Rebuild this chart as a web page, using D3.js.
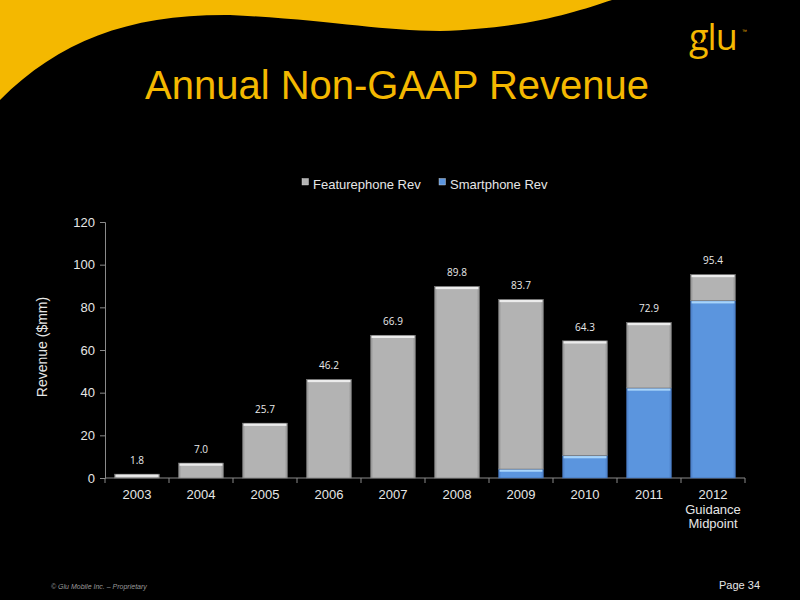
<!DOCTYPE html>
<html>
<head>
<meta charset="utf-8">
<script src="https://cdn.jsdelivr.net/npm/d3@7"></script>
<style>
html,body{margin:0;padding:0;background:#000;}
svg{display:block;}
</style>
</head>
<body>
<svg id="chart" width="800" height="600"></svg>
<script>
const categories = ["2003","2004","2005","2006","2007","2008","2009","2010","2011","2012\nGuidance\nMidpoint"];
const totals = [1.8, 7.0, 25.7, 46.2, 66.9, 89.8, 83.7, 64.3, 72.9, 95.4];
const smartphone = [0, 0, 0, 0, 0, 0, 4.2, 10.5, 42.2, 83.1];
const featurephone = totals.map((t,i) => +(t - smartphone[i]).toFixed(1));
const yTicks = [0, 20, 40, 60, 80, 100, 120];
const seriesNames = ["Featurephone Rev", "Smartphone Rev"];

(function(){
const svg = d3.select("#chart");
const W = 800, H = 600;
const yellow = "#f4b800";

svg.append("rect").attr("width", W).attr("height", H).attr("fill", "#000");
// yellow swoosh
svg.append("path")
  .attr("d", "M0,0 L612,0 C575,12 530,28 440,31 C380,31 330,20 230,15 C130,14 60,40 0,100 Z")
  .attr("fill", yellow);

// logo
const logo = svg.append("g");
logo.append("text").attr("x", 689).attr("y", 50).text("glu")
  .attr("font-family", "Open Sans, sans-serif").attr("font-size", 36).attr("font-weight", 500)
  .attr("fill", yellow).attr("letter-spacing", -1);
logo.append("circle").attr("cx", 699).attr("cy", 41).attr("r", 2).attr("fill", "#000");
logo.append("circle").attr("cx", 706).attr("cy", 41).attr("r", 2).attr("fill", "#000");
logo.append("text").attr("x", 742).attr("y", 33).text("™")
  .attr("font-family", "Liberation Sans, sans-serif").attr("font-size", 5).attr("fill", yellow);

// title
svg.append("text").attr("x", 397).attr("y", 99).attr("text-anchor", "middle")
  .attr("font-family", "Liberation Sans, Arial, sans-serif").attr("font-size", 40)
  .attr("fill", yellow).text("Annual Non-GAAP Revenue");

const defs = svg.append("defs");
function grad(id, edge, mid){
  const g = defs.append("linearGradient").attr("id", id).attr("x1","0").attr("x2","1").attr("y1","0").attr("y2","0");
  g.append("stop").attr("offset","0").attr("stop-color", edge);
  g.append("stop").attr("offset","0.06").attr("stop-color", mid);
  g.append("stop").attr("offset","0.94").attr("stop-color", mid);
  g.append("stop").attr("offset","1").attr("stop-color", edge);
}
grad("gGray", "#8e8e8e", "#b3b3b3");
grad("gBlue", "#4a7cc4", "#5b95de");

const pLeft = 105, pRight = 745, pTop = 222, pBottom = 478;
const x = d3.scaleBand().domain(categories).range([pLeft, pRight]).paddingInner(0.3).paddingOuter(0.15);
const y = d3.scaleLinear().domain([0, 120]).range([pBottom, pTop]);

// y axis
const yAxis = d3.axisLeft(y).tickValues(yTicks).tickSize(5).tickPadding(5);
const gy = svg.append("g").attr("transform", `translate(${pLeft},0)`).call(yAxis);
gy.select(".domain").attr("stroke", "#8a8a8a");
gy.selectAll(".tick line").attr("stroke", "#8a8a8a");
gy.selectAll(".tick text").attr("fill", "#e6e6e6").attr("font-size", 13)
  .attr("font-family", "Liberation Sans, Arial, sans-serif");

// x axis
const xAxis = d3.axisBottom(x).tickSize(0).tickFormat("");
const gx = svg.append("g").attr("transform", `translate(0,${pBottom})`).call(xAxis);
gx.select(".domain").attr("stroke", "#8a8a8a").attr("d", `M${pLeft},0H${pRight}`);
gx.selectAll(".tick").remove();
const bounds = categories.map((c) => x(c) - x.step()*x.paddingInner()/2).concat([pRight]);
gx.selectAll(".sep").data(bounds).join("line")
  .attr("x1", d => d).attr("x2", d => d).attr("y1", 0).attr("y2", 5).attr("stroke", "#8a8a8a");
const lbl = svg.append("g").attr("font-family", "Liberation Sans, Arial, sans-serif")
  .attr("font-size", 13).attr("fill", "#e6e6e6").attr("text-anchor", "middle");
categories.forEach(c => {
  const t = lbl.append("text").attr("x", x(c) + x.bandwidth()/2).attr("y", 499);
  c.split("\n").forEach((line, i) => {
    t.append("tspan").attr("x", x(c) + x.bandwidth()/2).attr("dy", i === 0 ? 0 : 14.5).text(line);
  });
});

// y label
svg.append("text").attr("transform", "translate(47,347) rotate(-90)").attr("text-anchor", "middle")
  .attr("font-family", "Liberation Sans, Arial, sans-serif").attr("font-size", 14)
  .attr("fill", "#e6e6e6").text("Revenue ($mm)");

// bars
const bars = svg.append("g");
categories.forEach((c, i) => {
  const bx = x(c), bw = x.bandwidth();
  if (smartphone[i] > 0) {
    bars.append("rect").attr("x", bx).attr("width", bw)
      .attr("y", y(smartphone[i])).attr("height", y(0) - y(smartphone[i]))
      .attr("fill", "url(#gBlue)").attr("stroke", "#3f6aa8").attr("stroke-width", 0.6);
    bars.append("rect").attr("x", bx + 1).attr("width", bw - 2)
      .attr("y", y(smartphone[i]) + 0.5).attr("height", 2.2).attr("fill", "#a8d4fa");
  }
  const y0 = y(smartphone[i]), y1 = y(smartphone[i] + featurephone[i]);
  bars.append("rect").attr("x", bx).attr("width", bw)
    .attr("y", y1).attr("height", y0 - y1)
    .attr("fill", "url(#gGray)").attr("stroke", "#7a7a7a").attr("stroke-width", 0.6);
  bars.append("rect").attr("x", bx + 1).attr("width", bw - 2)
    .attr("y", y1 + 0.5).attr("height", 2.2).attr("fill", "#ececec");
  svg.append("text").attr("x", bx + bw/2).attr("y", y(totals[i]) - 10)
    .attr("text-anchor", "middle").attr("font-family", "Open Sans, DejaVu Sans, sans-serif")
    .attr("font-size", 10).attr("fill", "#eaeaea").text(totals[i].toFixed(1));
});

// legend
const legend = svg.append("g").attr("font-family", "Liberation Sans, Arial, sans-serif")
  .attr("font-size", 13).attr("fill", "#e6e6e6");
const legendItems = [
  {name: seriesNames[0], color: "#b3b3b3", sx: 302, tx: 313},
  {name: seriesNames[1], color: "#5b95de", sx: 439, tx: 450}
];
legendItems.forEach(d => {
  legend.append("rect").attr("x", d.sx).attr("y", 178.5).attr("width", 6.5).attr("height", 6.5)
    .attr("fill", d.color).attr("stroke", "#ddd").attr("stroke-width", 0.4);
  legend.append("text").attr("x", d.tx).attr("y", 189).text(d.name);
});

// footer
svg.append("text").attr("x", 51).attr("y", 589).attr("font-family", "Liberation Sans, Arial, sans-serif")
  .attr("font-size", 7).attr("font-style", "italic").attr("fill", "#9a9a9a")
  .text("© Glu Mobile Inc. – Proprietary");
svg.append("text").attr("x", 760).attr("y", 589).attr("text-anchor", "end")
  .attr("font-family", "Liberation Sans, Arial, sans-serif").attr("font-size", 11).attr("fill", "#e6e6e6")
  .text("Page 34");
})();
</script>
</body>
</html>
